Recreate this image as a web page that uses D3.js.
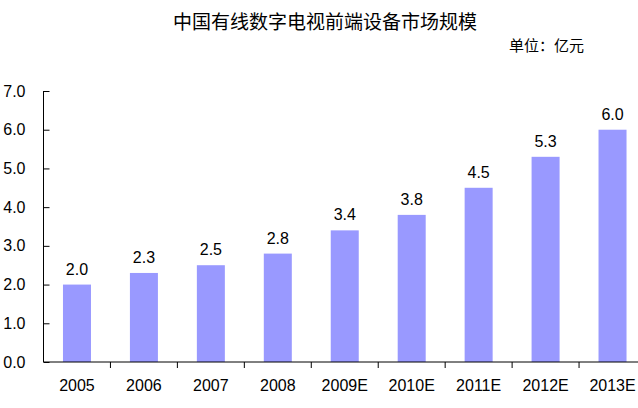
<!DOCTYPE html>
<html><head><meta charset="utf-8">
<script src="https://cdn.jsdelivr.net/npm/d3@7"></script>
<style>body{margin:0;background:#fff}svg{display:block}</style>
</head><body>
<svg id="c" width="638" height="408"></svg>
<script>
const categories = ["2005","2006","2007","2008","2009E","2010E","2011E","2012E","2013E"];
const values = [2.0, 2.3, 2.5, 2.8, 3.4, 3.8, 4.5, 5.3, 6.0];
const yTicks = [0,1,2,3,4,5,6,7];
const titleText = "中国有线数字电视前端设备市场规模";
const unitText = "单位：亿元";

(function(){
const svg = d3.select("#c");
const mLeft = 43.5, mRight = 646, mTop = 91, mBottom = 362;
const x = d3.scaleBand().domain(categories).range([mLeft, mRight]).paddingInner(0).paddingOuter(0);
const y = d3.scaleLinear().domain([0,7]).range([mBottom, mTop]);
const font = "'Liberation Sans', Arial, sans-serif";

svg.append("text").attr("x", 325).attr("y", 29).attr("text-anchor","middle")
  .attr("font-family","'Noto Sans CJK SC', sans-serif").attr("font-size",19).attr("fill","#000").text(titleText);
svg.append("text").attr("x", 584).attr("y", 51).attr("text-anchor","end")
  .attr("font-family","'Noto Sans CJK SC', sans-serif").attr("font-size",15).attr("fill","#000").text(unitText);

const barW = 28;
svg.selectAll("rect.bar").data(values).join("rect").attr("class","bar")
  .attr("x",(d,i)=>x(categories[i]) + x.bandwidth()/2 - barW/2)
  .attr("y",d=>y(d)).attr("width",barW).attr("height",d=>mBottom - y(d))
  .attr("fill","#9999FF");

svg.selectAll("text.val").data(values).join("text").attr("class","val")
  .attr("x",(d,i)=>x(categories[i]) + x.bandwidth()/2)
  .attr("y",d=>y(d)-10).attr("text-anchor","middle")
  .attr("font-family",font).attr("font-size",16).attr("fill","#000")
  .text(d=>d.toFixed(1));

const yAxis = d3.axisLeft(y).tickValues(yTicks).tickSize(-6).tickPadding(18).tickFormat(d=>d.toFixed(1));
const yg = svg.append("g").attr("transform",`translate(${mLeft},0)`).call(yAxis);
yg.select(".domain").attr("stroke","#000").attr("d",`M0,${mTop}V${mBottom}`);
yg.selectAll(".tick line").attr("stroke","#000");
yg.selectAll("text").attr("font-family",font).attr("font-size",16).attr("fill","#000");

const xg = svg.append("g").attr("transform",`translate(0,${mBottom})`);
xg.append("line").attr("x1",mLeft).attr("x2",mRight).attr("y1",0).attr("y2",0).attr("stroke","#000");
xg.selectAll("line.tk").data(categories.slice(1)).join("line").attr("class","tk")
  .attr("x1",d=>x(d)).attr("x2",d=>x(d)).attr("y1",0).attr("y2",6).attr("stroke","#000");
xg.selectAll("text.xl").data(categories).join("text").attr("class","xl")
  .attr("x",d=>x(d)+x.bandwidth()/2).attr("y",29).attr("text-anchor","middle")
  .attr("font-family",font).attr("font-size",16).attr("fill","#000").text(d=>d);
})();
</script>
</body></html>
